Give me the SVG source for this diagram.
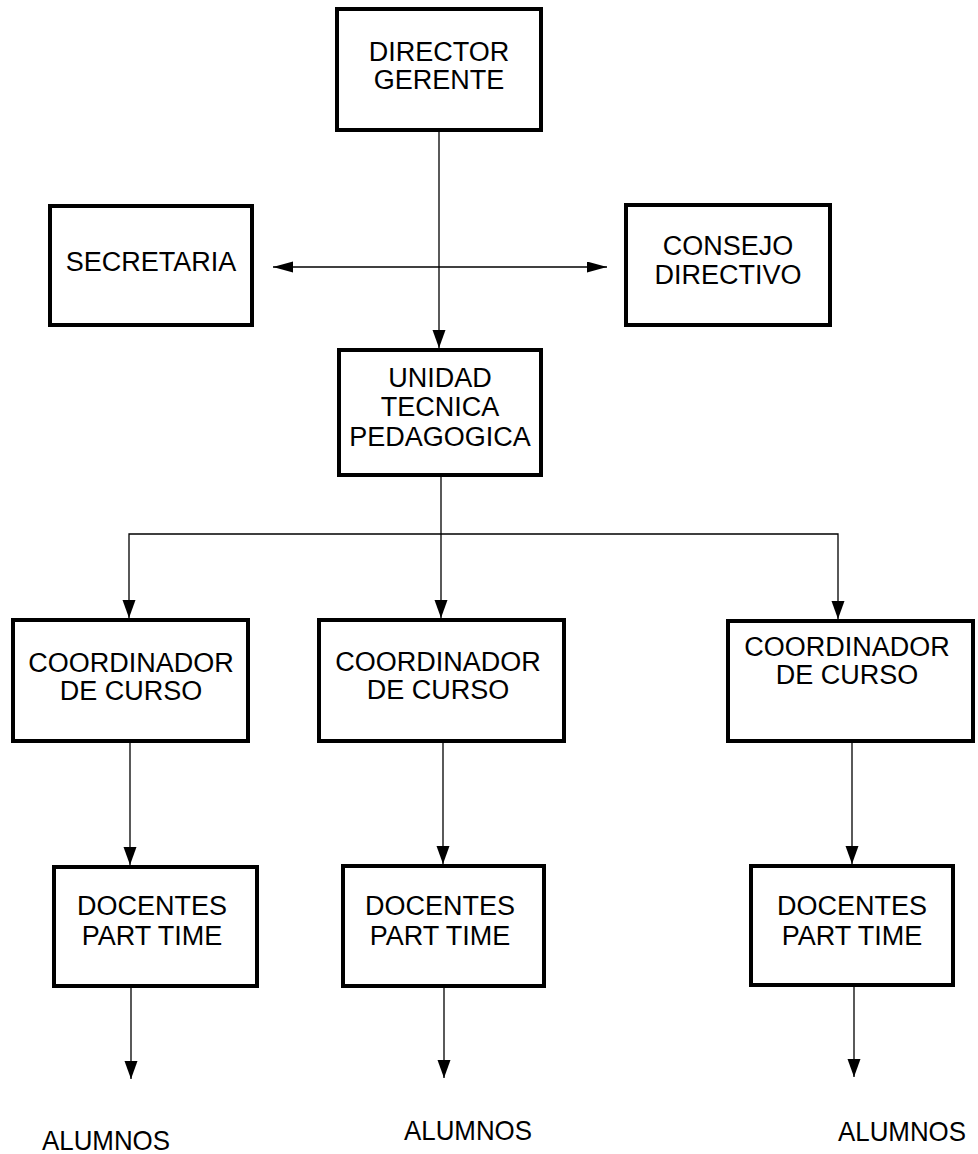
<svg xmlns="http://www.w3.org/2000/svg" width="978" height="1154" viewBox="0 0 978 1154">
<style>
.box{fill:#fff;stroke:#000;stroke-width:4}
.t{font-family:"Liberation Sans",Arial,sans-serif;font-size:27px;fill:#000;text-anchor:middle}
.al{font-size:28px}
.c{fill:none;stroke:#000;stroke-width:1.3}
.a{marker-end:url(#ah)}
</style>
<defs>
<marker id="ah" markerUnits="userSpaceOnUse" markerWidth="19" markerHeight="14" refX="18" refY="6.5" orient="auto">
<path d="M0,0 L18,6.5 L0,13 z" fill="#000"/>
</marker>
<marker id="ahs" markerUnits="userSpaceOnUse" markerWidth="21" markerHeight="12" refX="20" refY="5.5" orient="auto-start-reverse">
<path d="M0,0 L20,5.5 L0,11 z" fill="#000"/>
</marker>
</defs>
<rect width="978" height="1154" fill="#fff"/>
<g id="connectors">
<line class="c a" x1="439" y1="132" x2="439" y2="348"/>
<line class="c" x1="273" y1="267" x2="607" y2="267" marker-start="url(#ahs)" marker-end="url(#ahs)"/>
<line class="c a" x1="441" y1="477" x2="441" y2="618"/>
<polyline class="c a" points="441,534 129,534 129,618"/>
<polyline class="c a" points="441,534 838,534 838,619"/>
<line class="c a" x1="130" y1="743" x2="130" y2="865"/>
<line class="c a" x1="443" y1="743" x2="443" y2="864"/>
<line class="c a" x1="852" y1="743" x2="852" y2="864"/>
<line class="c a" x1="131" y1="988" x2="131" y2="1079"/>
<line class="c a" x1="444" y1="988" x2="444" y2="1078"/>
<line class="c a" x1="854" y1="987" x2="854" y2="1077"/>
</g>
<g id="director">
<rect class="box" x="337" y="9" width="204" height="121"/>
<text class="t" x="439" y="61">DIRECTOR</text>
<text class="t" x="439" y="89">GERENTE</text>
</g>
<g id="secretaria">
<rect class="box" x="50" y="206" width="202" height="119"/>
<text class="t" x="151" y="271">SECRETARIA</text>
</g>
<g id="consejo">
<rect class="box" x="626" y="205" width="204" height="120"/>
<text class="t" x="728" y="255">CONSEJO</text>
<text class="t" x="728" y="284">DIRECTIVO</text>
</g>
<g id="unidad">
<rect class="box" x="339" y="350" width="202" height="125"/>
<text class="t" x="440" y="387">UNIDAD</text>
<text class="t" x="440" y="416">TECNICA</text>
<text class="t" x="440" y="446">PEDAGOGICA</text>
</g>
<g id="coord1">
<rect class="box" x="13" y="620" width="235" height="121"/>
<text class="t" x="131" y="672">COORDINADOR</text>
<text class="t" x="131" y="700">DE CURSO</text>
</g>
<g id="coord2">
<rect class="box" x="319" y="620" width="245" height="121"/>
<text class="t" x="438" y="671">COORDINADOR</text>
<text class="t" x="438" y="699">DE CURSO</text>
</g>
<g id="coord3">
<rect class="box" x="728" y="621" width="245" height="120"/>
<text class="t" x="847" y="656">COORDINADOR</text>
<text class="t" x="847" y="684">DE CURSO</text>
</g>
<g id="docentes1">
<rect class="box" x="54" y="867" width="203" height="119"/>
<text class="t" x="152" y="915">DOCENTES</text>
<text class="t" x="152" y="945">PART TIME</text>
</g>
<g id="docentes2">
<rect class="box" x="343" y="866" width="201" height="120"/>
<text class="t" x="440" y="915">DOCENTES</text>
<text class="t" x="440" y="945">PART TIME</text>
</g>
<g id="docentes3">
<rect class="box" x="751" y="866" width="202" height="119"/>
<text class="t" x="852" y="915">DOCENTES</text>
<text class="t" x="852" y="945">PART TIME</text>
</g>
<g id="alumnos1"><text class="t al" x="106" y="1150" textLength="128" lengthAdjust="spacingAndGlyphs">ALUMNOS</text></g>
<g id="alumnos2"><text class="t al" x="468" y="1140" textLength="128" lengthAdjust="spacingAndGlyphs">ALUMNOS</text></g>
<g id="alumnos3"><text class="t al" x="902" y="1141" textLength="128" lengthAdjust="spacingAndGlyphs">ALUMNOS</text></g>
</svg>
